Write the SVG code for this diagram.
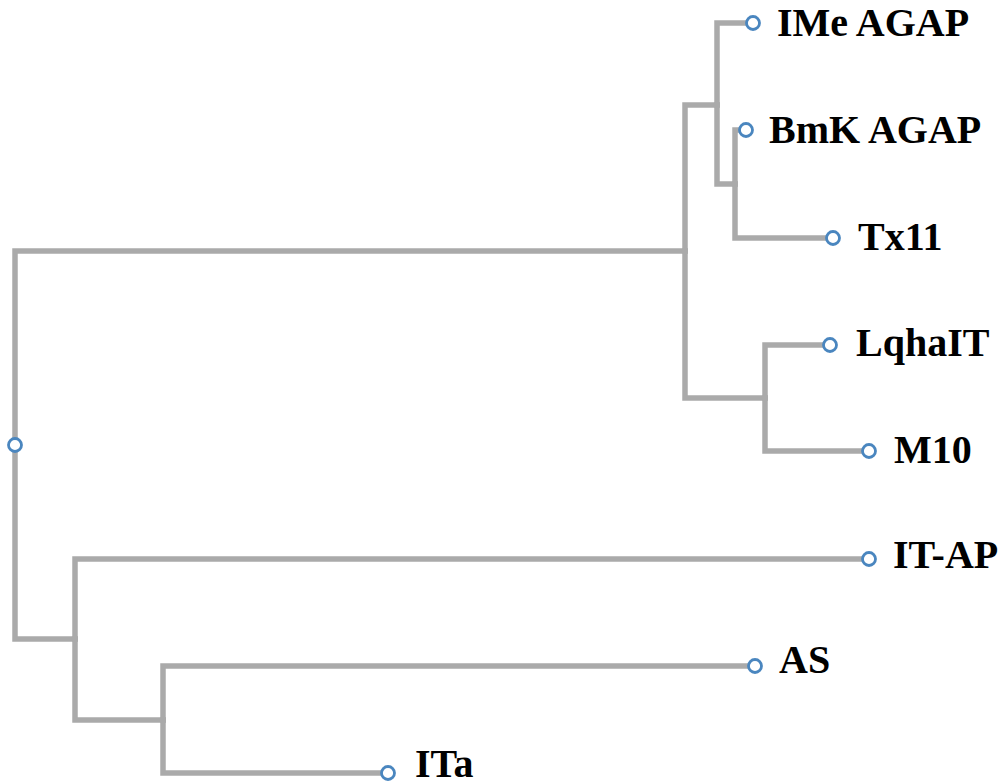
<svg xmlns="http://www.w3.org/2000/svg" width="1000" height="783" viewBox="0 0 1000 783">
<style>
.edge{fill:none;stroke:#aaaaaa;stroke-width:5.5;stroke-linecap:square;stroke-linejoin:miter}
.dot{fill:#ffffff;stroke:#4a86bf;stroke-width:2.8}
.lbl{font-family:"Liberation Serif","Times New Roman",serif;font-weight:bold;font-size:40px;fill:#000000}
</style>
<rect width="1000" height="783" fill="#ffffff"/>
<g id="connectors">
<path class="edge" d="M15 445 V251 H685"/>
<path class="edge" d="M15 445 V639 H75"/>
<path class="edge" d="M685 251 V105 H717"/>
<path class="edge" d="M685 251 V398 H765"/>
<path class="edge" d="M717 105 V23 H753"/>
<path class="edge" d="M717 105 V184 H735"/>
<path class="edge" d="M735 184 V130 H746"/>
<path class="edge" d="M735 184 V238 H833"/>
<path class="edge" d="M765 398 V345 H830"/>
<path class="edge" d="M765 398 V451 H869"/>
<path class="edge" d="M75 639 V559 H869"/>
<path class="edge" d="M75 639 V720 H163"/>
<path class="edge" d="M163 720 V666 H755"/>
<path class="edge" d="M163 720 V773 H388"/>
</g>
<g id="root"><circle class="dot" cx="15" cy="445" r="6.5"/></g>
<g id="IMeAGAP"><circle class="dot" cx="753" cy="23" r="6.5"/><text class="lbl" x="777" y="36">IMe AGAP</text></g>
<g id="BmKAGAP"><circle class="dot" cx="746" cy="130" r="6.5"/><text class="lbl" x="769" y="143">BmK AGAP</text></g>
<g id="Tx11"><circle class="dot" cx="833" cy="238" r="6.5"/><text class="lbl" x="858" y="250">Tx11</text></g>
<g id="LqhaIT"><circle class="dot" cx="830" cy="345" r="6.5"/><text class="lbl" x="856" y="356">LqhaIT</text></g>
<g id="M10"><circle class="dot" cx="869" cy="451" r="6.5"/><text class="lbl" x="894" y="463">M10</text></g>
<g id="IT-AP"><circle class="dot" cx="869" cy="559" r="6.5"/><text class="lbl" x="893" y="568">IT-AP</text></g>
<g id="AS"><circle class="dot" cx="755" cy="666" r="6.5"/><text class="lbl" x="779" y="673">AS</text></g>
<g id="ITa"><circle class="dot" cx="388" cy="773" r="6.5"/><text class="lbl" x="415" y="777">ITa</text></g>
</svg>
